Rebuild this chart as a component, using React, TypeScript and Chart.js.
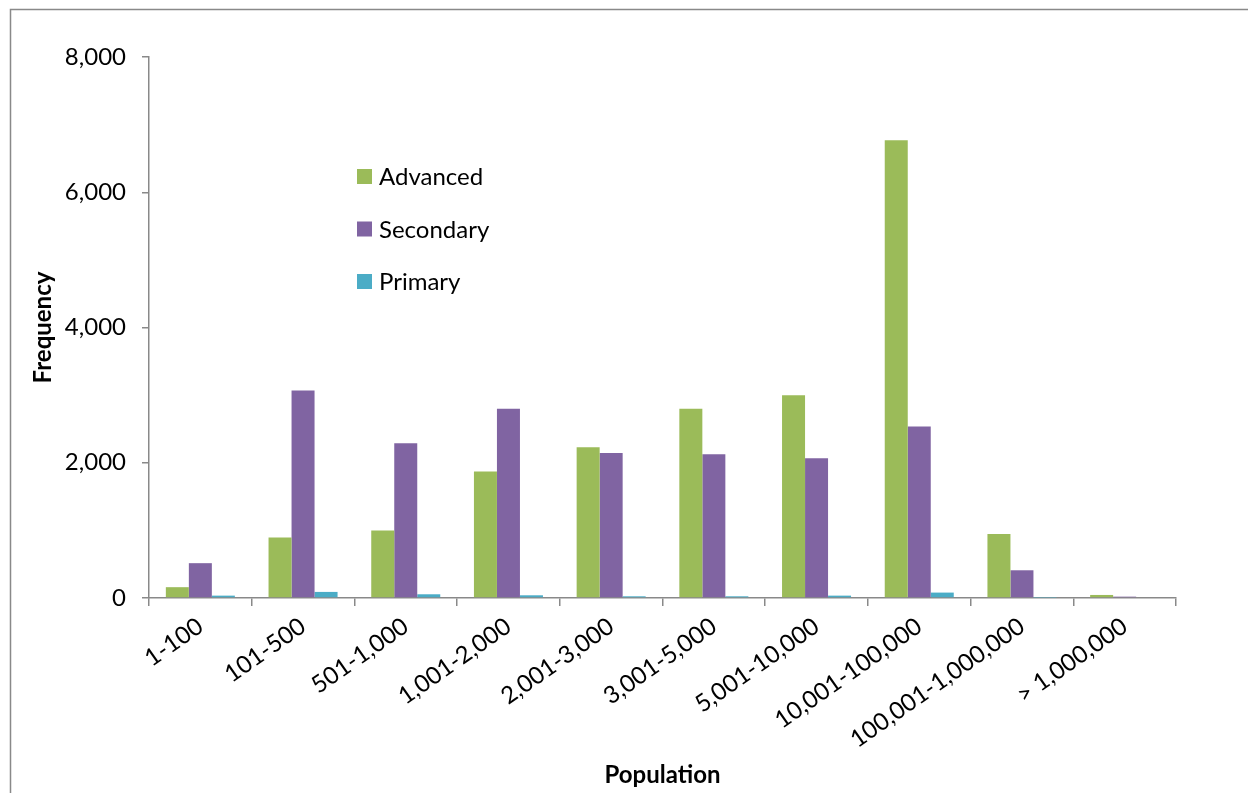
import React, { useEffect, useRef } from "react";
import { Chart, registerables } from "chart.js";

Chart.register(...registerables);

const categories = [
  "1-100",
  "101-500",
  "501-1,000",
  "1,001-2,000",
  "2,001-3,000",
  "3,001-5,000",
  "5,001-10,000",
  "10,001-100,000",
  "100,001-1,000,000",
  "> 1,000,000",
];
const advanced = [160, 895, 1000, 1870, 2230, 2800, 3000, 6770, 945, 45];
const secondary = [515, 3070, 2290, 2800, 2145, 2125, 2065, 2535, 410, 20];
const primary = [35, 90, 55, 40, 25, 25, 35, 80, 5, 0];
const seriesLabels = ["Advanced", "Secondary", "Primary"];
const seriesColors = ["#9BBB59", "#8064A2", "#4BACC6"];
const yMin = 0;
const yMax = 8000;
const yStep = 2000;
const xTitle = "Population";
const yTitle = "Frequency";

const FONT = "Lato, 'Open Sans', sans-serif";
const AXIS = "#898989";

const borderPlugin = {
  id: "outerBorder",
  beforeDraw(chart: any) {
    const ctx = chart.ctx;
    ctx.save();
    ctx.strokeStyle = AXIS;
    ctx.lineWidth = 1.5;
    ctx.beginPath();
    ctx.moveTo(10.5, chart.height);
    ctx.lineTo(10.5, 9.5);
    ctx.lineTo(chart.width, 9.5);
    ctx.stroke();
    ctx.restore();
  },
};

const legendPlugin = {
  id: "insideLegend",
  afterDraw(chart: any) {
    const ctx = chart.ctx;
    ctx.save();
    ctx.font = `24px ${FONT}`;
    ctx.textBaseline = "middle";
    ctx.textAlign = "left";
    chart.data.datasets.forEach((ds: any, i: number) => {
      const cy = 176.5 + i * 52.5;
      ctx.fillStyle = ds.backgroundColor;
      ctx.fillRect(357, cy - 7.5, 15, 15);
      ctx.fillStyle = "#000";
      ctx.fillText(ds.label, 379, cy + 1);
    });
    ctx.restore();
  },
};

export default function App() {
  const ref = useRef<HTMLCanvasElement | null>(null);

  useEffect(() => {
    if (!ref.current) return;
    const data = [advanced, secondary, primary];
    const chart = new Chart(ref.current, {
      type: "bar",
      data: {
        labels: categories,
        datasets: data.map((d, i) => ({
          label: seriesLabels[i],
          data: d,
          backgroundColor: seriesColors[i],
          borderWidth: 0,
          categoryPercentage: 0.672,
          barPercentage: 1,
        })),
      },
      plugins: [borderPlugin, legendPlugin],
      options: {
        responsive: false,
        animation: false,
        layout: { padding: { left: 0, top: 57, right: 72, bottom: 0 } },
        plugins: {
          legend: { display: false },
          tooltip: { enabled: false },
        },
        scales: {
          x: {
            afterFit: (s: any) => {
              s.height = 195;
            },
            grid: {
              display: true,
              drawOnChartArea: false,
              drawTicks: true,
              tickLength: 8,
              color: AXIS,
              lineWidth: 1.5,
              offset: true,
            },
            border: { display: true, color: AXIS, width: 1.5 },
            ticks: {
              autoSkip: false,
              minRotation: 35,
              maxRotation: 35,
              padding: 6,
              color: "#000",
              font: { family: FONT, size: 24 },
            },
            title: {
              display: true,
              text: xTitle,
              color: "#000",
              font: { family: FONT, size: 24, weight: "bold" },
              padding: { top: 0, bottom: 3 },
            },
          },
          y: {
            min: yMin,
            max: yMax,
            afterFit: (s: any) => {
              s.width = 149;
            },
            grid: {
              display: true,
              drawOnChartArea: false,
              drawTicks: true,
              tickLength: 7,
              color: AXIS,
              lineWidth: 1.5,
            },
            border: { display: true, color: AXIS, width: 1.5 },
            ticks: {
              stepSize: yStep,
              padding: 16,
              color: "#000",
              font: { family: FONT, size: 24 },
              callback: (v: any) => Number(v).toLocaleString("en-US"),
            },
            title: {
              display: true,
              text: yTitle,
              color: "#000",
              font: { family: FONT, size: 24, weight: "bold" },
              padding: { top: 29, bottom: 0 },
            },
          },
        },
      },
    });
    return () => chart.destroy();
  }, []);

  return (
    <canvas
      ref={ref}
      width={1248}
      height={793}
      style={{ position: "fixed", left: 0, top: 0, width: 1248, height: 793 }}
    />
  );
}
